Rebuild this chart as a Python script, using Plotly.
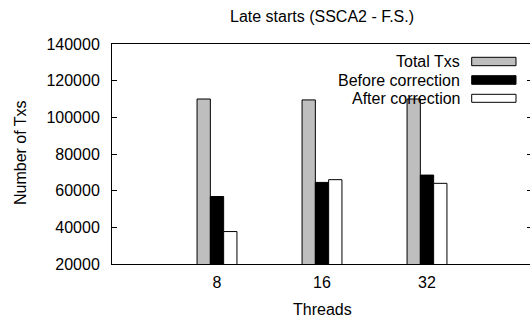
import plotly.graph_objects as go

threads = ["8", "16", "32"]
total_txs = [110000, 109500, 110000]
before_corr = [56800, 64500, 68500]
after_corr = [37700, 66000, 64000]

series = [
    ("Total Txs", total_txs, "#bebebe"),
    ("Before correction", before_corr, "#000000"),
    ("After correction", after_corr, "#ffffff"),
]

FONT = "Liberation Sans, Arial, sans-serif"
FS = 16
W, H = 536, 322          # slightly wider than the window: right border is cut off like the reference
L, R, T, B = 112, 4, 44, 58
pw, ph = W - L - R, H - T - B


def px(x):
    return (x - L) / pw


def py(y):
    return (H - B - y) / ph


fig = go.Figure()
for name, vals, col in series:
    fig.add_trace(go.Bar(x=threads, y=vals, name=name,
                         marker=dict(color=col, line=dict(color="black", width=1))))

# gnuplot style key: right aligned text, swatch on the right
ann = []
shapes = []
rows = [(61.5, 57.3, 65.7), (80, 75.7, 84.3), (98.3, 94.3, 102.3)]
for (name, vals, col), (yc, ytop, ybot) in zip(series, rows):
    ann.append(dict(text=name, xref="paper", yref="paper", x=px(462), y=py(yc),
                    xanchor="right", yanchor="middle", showarrow=False,
                    font=dict(size=FS, color="black", family=FONT)))
    shapes.append(dict(type="rect", xref="paper", yref="paper", x0=px(471.7), x1=px(516),
                       y0=py(ybot), y1=py(ytop), fillcolor=col,
                       line=dict(color="black", width=1)))

ann.append(dict(text="Number of Txs", xref="paper", yref="paper", x=px(20), y=py(153),
                textangle=-90, xanchor="center", yanchor="middle", showarrow=False,
                font=dict(size=FS, color="black", family=FONT)))
ann.append(dict(text="Threads", xref="paper", yref="paper", x=px(322.5), y=py(309),
                xanchor="center", yanchor="middle", showarrow=False,
                font=dict(size=FS, color="black", family=FONT)))
ann.append(dict(text="Late starts (SSCA2 - F.S.)", xref="paper", yref="paper",
                x=px(322), y=py(17), xanchor="center", yanchor="middle", showarrow=False,
                font=dict(size=FS, color="black", family=FONT)))

fig.update_layout(
    width=W, height=H,
    margin=dict(l=L, r=R, t=T, b=B),
    paper_bgcolor="white", plot_bgcolor="white",
    font=dict(family=FONT, size=FS, color="black"),
    barmode="group", bargap=0.62, bargroupgap=0,
    showlegend=False,
    annotations=ann, shapes=shapes,
    xaxis=dict(type="category", range=[-1, 3], showline=True, mirror=True,
               linecolor="black", linewidth=1, ticks="", showgrid=False, zeroline=False,
               ticklabelstandoff=4),
    yaxis=dict(range=[20000, 140000], dtick=20000, tickformat="d", ticks="inside",
               ticklen=5, tickcolor="black", showline=True, mirror="ticks", linecolor="black",
               linewidth=1, showgrid=False, zeroline=False, ticklabelstandoff=8),
)

fig.write_html("out.html", config={"displayModeBar": False},
               post_script="document.body.style.margin='0';document.body.style.overflow='hidden';"
                           "document.documentElement.style.overflow='hidden';")
